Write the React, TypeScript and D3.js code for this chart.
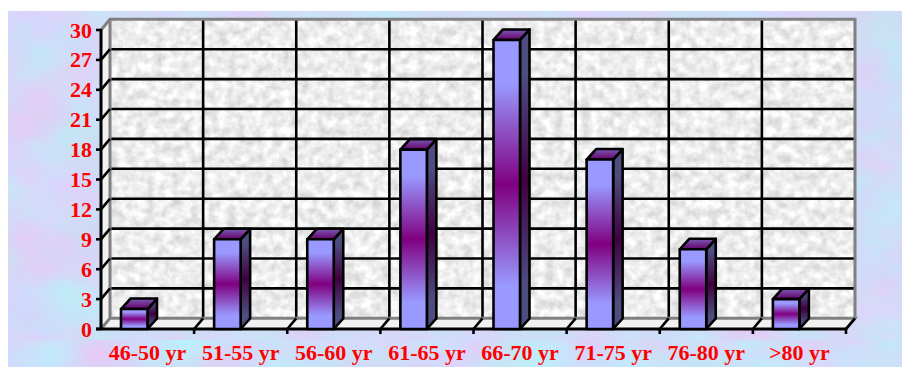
import * as d3 from "d3";

// Patients per age band
const categories = ["46-50 yr", "51-55 yr", "56-60 yr", "61-65 yr", "66-70 yr", "71-75 yr", "76-80 yr", ">80 yr"];
const counts = [2, 9, 9, 18, 29, 17, 8, 3];
const yTicks = [0, 3, 6, 9, 12, 15, 18, 21, 24, 27, 30];

const WIDTH = 902;
const HEIGHT = 367;
const LEFT = 101;
const RIGHT = 846;
const TOP = 30;
const BOTTOM = 329;
// Oblique offset of the back wall relative to the front plane
const DX = 9;
const DY = 10.7;
const BAR_DEPTH_X = 9.5;
const BAR_DEPTH_Y = 10.5;

const x = d3.scaleBand<string>().domain(categories).range([LEFT, RIGHT]).paddingInner(0).paddingOuter(0);
const y = d3.scaleLinear().domain([0, 30]).range([BOTTOM, TOP]);
const BAR_W = 26.5;
const BAR_OFFSET = 20;

const poly = (pts: [number, number][]) => {
  const p = d3.path();
  pts.forEach(([a, b], i) => (i ? p.lineTo(a, b) : p.moveTo(a, b)));
  p.closePath();
  return p.toString();
};

const LABEL_FONT = { fontFamily: "'Liberation Serif', serif", fontWeight: 700, fill: "#ff0000" };

export default function App() {
  const bw = x.bandwidth();
  const edges = d3.range(categories.length + 1).map((i) => LEFT + i * bw);
  return (
    <svg width={WIDTH} height={HEIGHT} style={{ position: "absolute", left: 0, top: 0 }}>
      <defs>
        <filter id="clouds" x="0" y="0" width="100%" height="100%" colorInterpolationFilters="sRGB">
          <feTurbulence type="fractalNoise" baseFrequency="0.014 0.018" numOctaves={4} seed={7} />
          <feColorMatrix
            type="matrix"
            values="0.2 -0.08 0 0 0.76
                    -0.14 0.1 0 0 0.88
                    0 0 0.05 0 0.945
                    0 0 0 0 1"
          />
        </filter>
        <filter id="cloudsLow" x="0" y="0" width="100%" height="100%" colorInterpolationFilters="sRGB">
          <feTurbulence type="fractalNoise" baseFrequency="0.014 0.02" numOctaves={4} seed={23} />
          <feColorMatrix
            type="matrix"
            values="0.2 -0.08 0 0 0.75
                    -0.14 0.1 0 0 0.89
                    0 0 0.05 0 0.95
                    0 0 0 0 1"
          />
        </filter>
        <filter id="stone" x="0" y="0" width="100%" height="100%" colorInterpolationFilters="sRGB">
          <feTurbulence type="fractalNoise" baseFrequency="0.11" numOctaves={3} seed={11} />
          <feColorMatrix
            type="matrix"
            values="0.28 0 0 0 0.79
                    0.28 0 0 0 0.79
                    0.28 0 0 0 0.79
                    0 0 0 0 1"
          />
        </filter>
        <linearGradient id="front" x1="0" y1="0" x2="0" y2="1">
          <stop offset="0" stopColor="#9999ff" />
          <stop offset="0.15" stopColor="#9999ff" />
          <stop offset="0.5" stopColor="#800080" />
          <stop offset="0.85" stopColor="#9999ff" />
          <stop offset="1" stopColor="#9999ff" />
        </linearGradient>
        <linearGradient id="side" x1="0" y1="0" x2="0" y2="1">
          <stop offset="0" stopColor="#4d4d80" />
          <stop offset="0.15" stopColor="#4d4d80" />
          <stop offset="0.5" stopColor="#400040" />
          <stop offset="0.85" stopColor="#4d4d80" />
          <stop offset="1" stopColor="#4d4d80" />
        </linearGradient>
        <linearGradient id="cap" x1="0" y1="0" x2="0" y2="1">
          <stop offset="0" stopColor="#7a5ab8" />
          <stop offset="1" stopColor="#660066" />
        </linearGradient>
      </defs>

      {/* Page backdrop */}
      <rect x={8} y={11} width={WIDTH - 8} height={329} filter="url(#clouds)" />
      <rect x={8} y={340} width={WIDTH - 8} height={HEIGHT - 340} filter="url(#cloudsLow)" />

      {/* Back wall */}
      <rect
        x={LEFT + DX}
        y={TOP - DY}
        width={RIGHT - LEFT}
        height={BOTTOM - TOP}
        filter="url(#stone)"
      />
      {/* Side wall and floor */}
      <path
        d={poly([[LEFT, TOP], [LEFT + DX, TOP - DY], [LEFT + DX, BOTTOM - DY], [LEFT, BOTTOM]])}
        fill="#f1f1f1"
      />
      <path
        d={poly([[LEFT, BOTTOM], [LEFT + DX, BOTTOM - DY], [RIGHT + DX, BOTTOM - DY], [RIGHT, BOTTOM]])}
        fill="#f1f1f1"
      />

      {/* Horizontal and vertical gridlines on the back wall */}
      {yTicks.slice(1, -1).map((t) => (
        <line key={t} x1={LEFT + DX} x2={RIGHT + DX} y1={y(t) - DY} y2={y(t) - DY} stroke="#000" strokeWidth={2.6} />
      ))}
      {edges.slice(1, -1).map((e) => (
        <line key={e} x1={e + DX} x2={e + DX} y1={TOP - DY} y2={BOTTOM - DY} stroke="#000" strokeWidth={2.6} />
      ))}

      {/* Grey wall frame */}
      <path
        d={`M${LEFT},${TOP}L${LEFT + DX},${TOP - DY}H${RIGHT + DX}V${BOTTOM - DY}`}
        fill="none"
        stroke="#808080"
        strokeWidth={3}
      />
      <path
        d={`M${LEFT},${BOTTOM}L${LEFT + DX},${BOTTOM - DY}V${TOP - DY}M${LEFT + DX},${BOTTOM - DY}H${RIGHT + DX}L${RIGHT},${BOTTOM}`}
        fill="none"
        stroke="#808080"
        strokeWidth={3}
      />

      {/* Value axis with its oblique tick returns */}
      <line x1={LEFT} x2={LEFT} y1={TOP - 1} y2={BOTTOM + 1} stroke="#000" strokeWidth={3} />
      {yTicks.map((t) => (
        <g key={t}>
          <line x1={LEFT - 5} x2={LEFT} y1={y(t)} y2={y(t)} stroke="#000" strokeWidth={2.6} />
          {t > 0 && t < 30 && (
            <line x1={LEFT} x2={LEFT + DX} y1={y(t)} y2={y(t) - DY} stroke="#000" strokeWidth={2.6} />
          )}
          <text x={92} y={y(t) + 7.5} textAnchor="end" fontSize={22} {...LABEL_FONT}>
            {t}
          </text>
        </g>
      ))}

      {/* Category axis */}
      <line x1={LEFT - 5} x2={RIGHT} y1={BOTTOM} y2={BOTTOM} stroke="#000" strokeWidth={3} />
      {edges.slice(1).map((e) => (
        <g key={e}>
          <line x1={e} x2={e} y1={BOTTOM} y2={BOTTOM + 5} stroke="#000" strokeWidth={2.6} />
          <line x1={e} x2={e + DX} y1={BOTTOM} y2={BOTTOM - DY} stroke="#000" strokeWidth={2.6} />
        </g>
      ))}
      {categories.map((c) => (
        <text
          key={c}
          x={(x(c) as number) + bw / 2}
          y={360}
          textAnchor="middle"
          fontSize={22}
          {...LABEL_FONT}
        >
          {c}
        </text>
      ))}

      {/* Oblique bars: front face, side face, top cap */}
      {categories.map((c, i) => {
        const x0 = (x(c) as number) + BAR_OFFSET;
        const x1 = x0 + BAR_W;
        const top = y(counts[i]);
        return (
          <g key={c} stroke="#000" strokeWidth={2.6} strokeLinejoin="round">
            <path
              d={poly([[x1, top], [x1 + BAR_DEPTH_X, top - BAR_DEPTH_Y], [x1 + BAR_DEPTH_X, BOTTOM - BAR_DEPTH_Y], [x1, BOTTOM]])}
              fill="url(#side)"
            />
            <path
              d={poly([[x0, top], [x0 + BAR_DEPTH_X, top - BAR_DEPTH_Y], [x1 + BAR_DEPTH_X, top - BAR_DEPTH_Y], [x1, top]])}
              fill="url(#cap)"
            />
            <rect x={x0} y={top} width={BAR_W} height={BOTTOM - top} fill="url(#front)" />
          </g>
        );
      })}
    </svg>
  );
}
